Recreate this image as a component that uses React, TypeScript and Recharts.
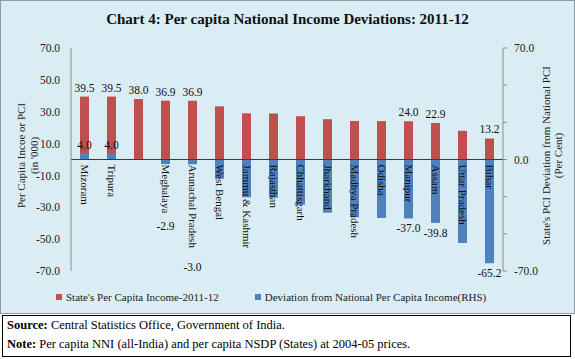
import React from 'react';
import { ComposedChart, Bar, XAxis, YAxis, ReferenceLine, LabelList, Legend } from 'recharts';

const states = [
  'Mizoram', 'Tripura', 'All-India', 'Meghalaya', 'Arunachal Pradesh', 'West Bengal',
  'Jammu & Kashmir', 'Rajasthan', 'Chhattisgarh', 'Jharkhand', 'Madhya Pradesh', 'Odisha',
  'Manipur', 'Assam', 'Uttar Pradesh', 'Bihar',
];
// per capita income, Rs '000
const pci = [39.5, 39.5, 38.0, 36.9, 36.9, 33.4, 29.0, 28.9, 27.2, 25.3, 24.2, 24.1, 24.0, 22.9, 18.0, 13.2];
// deviation from national PCI, per cent
const deviation = [4.0, 4.0, 0, -2.9, -3.0, -12.1, -23.7, -24.0, -28.4, -33.4, -36.3, -36.7, -37.0, -39.8, -52.4, -65.2];
const pciLabelled = ['Mizoram', 'Tripura', 'All-India', 'Meghalaya', 'Arunachal Pradesh', 'Manipur', 'Assam', 'Bihar'];
const devLabelled = ['Mizoram', 'Tripura', 'Meghalaya', 'Arunachal Pradesh', 'Manipur', 'Assam', 'Bihar'];
const leftTicks = [70, 50, 30, 10, -10, -30, -50, -70];
const rightTicks = [70, 46.7, 23.3, 0, -23.3, -46.7, -70];
const rightLabelled = [70, 0, -70];
const seriesNames = ["State's Per Capita Income-2011-12", 'Deviation from National Per Capita Income(RHS)'];

const data = states.map((s, i) => ({
  state: s,
  pci: pci[i],
  dev: deviation[i],
  pciLabel: pciLabelled.includes(s) ? pci[i] : null,
  devLabel: devLabelled.includes(s) ? s : null,
}));

const FONT = "'Liberation Serif', 'Times New Roman', serif";
const RED = '#c0504d';
const BLUE = '#4f81bd';
const colors = [RED, BLUE];

// zero line of a blue bar: its top when negative, its bottom otherwise
const zeroOf = (y: number, height: number, v: number) =>
  v < 0 ? Math.min(y, y + height) : Math.max(y, y + height);

// state names hang down from the zero line, drawn over the blue bars
const CategoryLabel = (props: any) => {
  const { x, y, width, height, value } = props;
  const cx = x + width / 2;
  const base = zeroOf(y, height, deviation[states.indexOf(value)]) + 5;
  return (
    <text x={cx} y={base} transform={`rotate(90 ${cx} ${base})`} textAnchor="start"
      dominantBaseline="central" fontSize={11} fontFamily={FONT} fill="#111">
      {value}
    </text>
  );
};

const PciLabel = (props: any) => {
  const { x, y, width, value } = props;
  if (value == null) return null;
  return (
    <text x={x + width / 2} y={y - 5} textAnchor="middle" fontSize={11.5} fontFamily={FONT} fill="#111">
      {value.toFixed(1)}
    </text>
  );
};

// value holds the state name of a labelled blue bar
const DevLabel = (props: any) => {
  const { x, y, width, height, value } = props;
  if (value == null) return null;
  const v = deviation[states.indexOf(value)];
  const cx = x + width / 2;
  const top = Math.min(y, y + height);
  const bottom = Math.max(y, y + height);
  if (v >= 0) {
    return (
      <text x={cx} y={top - 4} textAnchor="middle" fontSize={11.5} fontFamily={FONT} fill="#111">
        {v.toFixed(1)}
      </text>
    );
  }
  // keep clear of the rotated state name
  const nameEnd = top + 5 + value.length * 5.1;
  const cy = Math.max(bottom + 10, nameEnd + 16);
  return (
    <text x={cx} y={cy} textAnchor="middle" dominantBaseline="central" fontSize={11.5} fontFamily={FONT} fill="#111">
      {v.toFixed(1)}
    </text>
  );
};

const LeftTitle = (props: any) => {
  const { x, y, height } = props.viewBox;
  const cy = y + height / 2 - 4;
  return (
    <g fontSize={11} fontFamily={FONT} fill="#222" textAnchor="middle">
      <text x={x - 10} y={cy} transform={`rotate(-90 ${x - 10} ${cy})`} dominantBaseline="central">Per Capita Incoe or PCI</text>
      <text x={x + 3} y={cy} transform={`rotate(-90 ${x + 3} ${cy})`} dominantBaseline="central">(in '000)</text>
    </g>
  );
};

const RightTitle = (props: any) => {
  const { x, y, height } = props.viewBox;
  const cy = y + height / 2 - 4;
  return (
    <g fontSize={11} fontFamily={FONT} fill="#222" textAnchor="middle">
      <text x={x + 43} y={cy} transform={`rotate(-90 ${x + 43} ${cy})`} dominantBaseline="central">State's PCI Deviation from National PCI</text>
      <text x={x + 55} y={cy} transform={`rotate(-90 ${x + 55} ${cy})`} dominantBaseline="central">(Per Cent)</text>
    </g>
  );
};

const LegendContent = () => (
  <div style={{ display: 'flex', fontFamily: FONT, fontSize: 11, color: '#222' }}>
    {seriesNames.map((name, i) => (
      <div key={name} style={{ display: 'flex', alignItems: 'center', marginLeft: i === 0 ? 55 : 36 }}>
        <span style={{ width: 6, height: 6, background: colors[i], display: 'inline-block', marginRight: 4 }} />
        <span>{name}</span>
      </div>
    ))}
  </div>
);

export default function App() {
  return (
    <div style={{ position: 'absolute', left: 0, top: 0, width: 575, height: 359, background: '#fff', fontFamily: FONT }}>
      <div style={{ position: 'absolute', left: 0, top: 0, width: 573, height: 312, background: '#daedf4', border: '1px solid #8e9ca6' }}>
        <div style={{ position: 'absolute', top: 8, width: 573, textAlign: 'center', fontSize: 15, fontWeight: 'bold', lineHeight: '20px', color: '#111' }}>
          Chart 4: Per capita National Income Deviations: 2011-12
        </div>
        <ComposedChart width={573} height={312} data={data} margin={{ top: 47, right: 31, bottom: 42, left: 30 }}>
          <XAxis xAxisId="a" dataKey="state" hide />
          <XAxis xAxisId="b" dataKey="state" hide />
          <YAxis yAxisId="left" width={40} domain={[-70, 70]} ticks={leftTicks} interval={0}
            tickFormatter={(v: number) => v.toFixed(1)} tickLine={false} tickMargin={5}
            axisLine={{ stroke: '#8c8c8c' }} tick={{ fontSize: 11.5, fontFamily: FONT, fill: '#222' }}
            label={<LeftTitle />} />
          <YAxis yAxisId="right" orientation="right" width={40} domain={[-70, 70]} ticks={rightTicks} interval={0}
            tickFormatter={(v: number) => (rightLabelled.includes(v) ? v.toFixed(1) : '')}
            tickSize={4} tickMargin={7} tickLine={{ stroke: '#8c8c8c' }}
            axisLine={{ stroke: '#8c8c8c' }} tick={{ fontSize: 11.5, fontFamily: FONT, fill: '#222' }}
            label={<RightTitle />} />
          <ReferenceLine yAxisId="left" xAxisId="a" y={0} stroke="#3a3a3a" />
          <Bar xAxisId="a" yAxisId="left" dataKey="pci" name={seriesNames[0]}
            fill={RED} barSize={9} isAnimationActive={false}>
            <LabelList dataKey="pciLabel" content={<PciLabel />} />
          </Bar>
          <Bar xAxisId="b" yAxisId="right" dataKey="dev" name={seriesNames[1]}
            fill={BLUE} barSize={9} isAnimationActive={false}>
            <LabelList dataKey="devLabel" content={<DevLabel />} />
            <LabelList dataKey="state" content={<CategoryLabel />} />
          </Bar>
          <Legend verticalAlign="middle" layout="horizontal" content={<LegendContent />}
            wrapperStyle={{ top: 290, left: 0, width: 573, height: 16 }} />
        </ComposedChart>
      </div>
      <div style={{ position: 'absolute', left: 2, top: 315, width: 563, height: 40, background: '#fff', border: '1px solid #000', fontSize: 12.5, lineHeight: '19px', paddingLeft: 4, color: '#000' }}>
        <div><b>Source:</b> Central Statistics Office, Government of India.</div>
        <div><b>Note:</b> Per capita NNI (all-India) and per capita NSDP (States) at 2004-05 prices.</div>
      </div>
    </div>
  );
}
